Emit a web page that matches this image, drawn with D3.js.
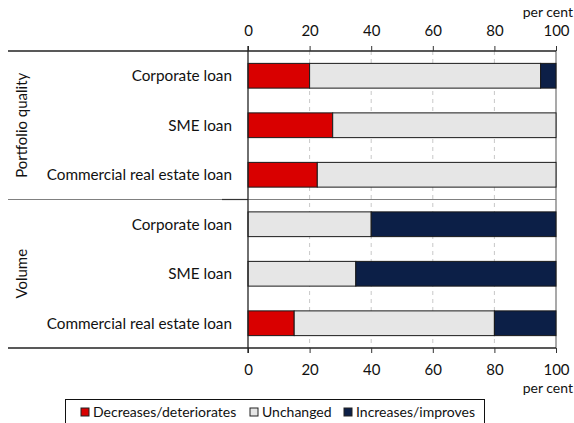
<!DOCTYPE html>
<html>
<head>
<meta charset="utf-8">
<script src="https://cdn.jsdelivr.net/npm/d3@7"></script>
<style>
  body { margin: 0; background: #fff; }
  #chart { width: 574px; height: 423px; }
  text { font-family: Lato, "Liberation Sans", sans-serif; }
</style>
</head>
<body>
<div id="chart"></div>
<script>
const groups = ["Portfolio quality", "Volume"];
const categories = ["Corporate loan", "SME loan", "Commercial real estate loan"];
const seriesNames = ["Decreases/deteriorates", "Unchanged", "Increases/improves"];
const decreases = [20, 27.5, 22.5, 0, 0, 15];
const unchanged = [75, 72.5, 77.5, 40, 35, 65];
const increases = [5, 0, 0, 60, 65, 20];
const xTicks = [0, 20, 40, 60, 80, 100];

const colors = ["#d90000", "#e6e6e6", "#0c1f47"];

const width = 574, height = 423;
const margin = { top: 51, right: 18, bottom: 75, left: 248 };
const ruleLeft = 8; // start of the horizontal rules

// one row per group x category
const rows = groups.flatMap((g, gi) =>
  categories.map((c, ci) => {
    const i = gi * categories.length + ci;
    return { id: i, group: g, cat: c, vals: [decreases[i], unchanged[i], increases[i]] };
  })
);

const svg = d3.select("#chart").append("svg")
  .attr("width", width).attr("height", height);

const x = d3.scaleLinear().domain([0, 100]).range([margin.left, width - margin.right]);
const y = d3.scaleBand()
  .domain(rows.map((d) => d.id))
  .range([margin.top, height - margin.bottom])
  .paddingInner(0.5)
  .paddingOuter(0.25);

const yTop = margin.top, yBottom = height - margin.bottom;

// gridlines
svg.append("g")
  .selectAll("line")
  .data(xTicks.slice(1))
  .join("line")
  .attr("x1", (d) => x(d)).attr("x2", (d) => x(d))
  .attr("y1", yTop).attr("y2", yBottom)
  .attr("stroke", (d) => (d === 100 ? "#8c8c8c" : "#c8c8c8"))
  .attr("stroke-width", (d) => (d === 100 ? 1.5 : 1))
  .attr("stroke-dasharray", (d) => (d === 100 ? null : "4,4"));

// group separator
const sep = y(rows[categories.length].id) - y.step() * y.paddingInner() / 2;
svg.append("line")
  .attr("x1", ruleLeft).attr("x2", x(100))
  .attr("y1", sep).attr("y2", sep)
  .attr("stroke", "#808080").attr("stroke-width", 1.2);
svg.append("line")
  .attr("x1", 222).attr("x2", x(0))
  .attr("y1", sep).attr("y2", sep)
  .attr("stroke", "#333").attr("stroke-width", 1.2);

// stacked bars
const stacked = rows.map((r) => {
  let acc = 0;
  return r.vals.map((v, k) => {
    const s = { id: r.id, k, x0: acc, x1: acc + v };
    acc += v;
    return s;
  }).filter((s) => s.x1 > s.x0);
});

svg.append("g")
  .selectAll("rect")
  .data(stacked.flat())
  .join("rect")
  .attr("x", (d) => x(d.x0))
  .attr("width", (d) => x(d.x1) - x(d.x0))
  .attr("y", (d) => y(d.id))
  .attr("height", y.bandwidth())
  .attr("fill", (d) => colors[d.k])
  .attr("stroke", "#1a1a1a")
  .attr("stroke-width", 1);

// horizontal rules top & bottom
[yTop, yBottom].forEach((yy) => {
  svg.append("line")
    .attr("x1", ruleLeft).attr("x2", x(100))
    .attr("y1", yy).attr("y2", yy)
    .attr("stroke", "#222").attr("stroke-width", 1.3);
});

// axes
const axTop = svg.append("g")
  .attr("transform", `translate(0,${yTop})`)
  .call(d3.axisTop(x).tickValues(xTicks).tickSize(5).tickPadding(10));
const axBottom = svg.append("g")
  .attr("transform", `translate(0,${yBottom})`)
  .call(d3.axisBottom(x).tickValues(xTicks).tickSize(5).tickPadding(11));
[axTop, axBottom].forEach((a) => {
  a.select(".domain").remove();
  a.selectAll("line").attr("stroke", "#333");
  a.selectAll("text").attr("font-size", 15).attr("fill", "#111")
    .style("font-family", "Lato, sans-serif");
});

// vertical axis line
svg.append("line")
  .attr("x1", x(0)).attr("x2", x(0))
  .attr("y1", yTop - 5).attr("y2", yBottom + 5)
  .attr("stroke", "#222").attr("stroke-width", 1.3);

// unit labels
svg.append("text")
  .attr("x", width - 1).attr("y", 17)
  .attr("text-anchor", "end").attr("font-size", 14).attr("fill", "#111")
  .text("per cent");
svg.append("text")
  .attr("x", width - 1).attr("y", 393)
  .attr("text-anchor", "end").attr("font-size", 14).attr("fill", "#111")
  .text("per cent");

// category labels
svg.append("g")
  .selectAll("text")
  .data(rows)
  .join("text")
  .attr("x", x(0) - 16)
  .attr("y", (d) => y(d.id) + y.bandwidth() / 2)
  .attr("dy", "0.35em")
  .attr("text-anchor", "end")
  .attr("font-size", 15.3)
  .attr("fill", "#111")
  .text((d) => d.cat);

// group labels (rotated)
groups.forEach((g, gi) => {
  const first = y(gi * categories.length);
  const last = y(gi * categories.length + categories.length - 1) + y.bandwidth();
  const cy = (first + last) / 2;
  svg.append("text")
    .attr("transform", `translate(22,${cy}) rotate(-90)`)
    .attr("dy", "0.35em")
    .attr("text-anchor", "middle")
    .attr("font-size", 15)
    .attr("fill", "#111")
    .text(g);
});

// legend
const legend = svg.append("g");
legend.append("rect")
  .attr("x", 65.5).attr("y", 399.5)
  .attr("width", 419).attr("height", 30)
  .attr("fill", "none").attr("stroke", "#111").attr("stroke-width", 1);
const legendX = [81, 250, 344];
seriesNames.forEach((name, i) => {
  legend.append("rect")
    .attr("x", legendX[i]).attr("y", 408)
    .attr("width", 8).attr("height", 8)
    .attr("fill", colors[i]).attr("stroke", "#222");
  legend.append("text")
    .attr("x", legendX[i] + 12).attr("y", 417)
    .attr("font-size", 14).attr("fill", "#111")
    .text(name);
});
</script>
</body>
</html>
